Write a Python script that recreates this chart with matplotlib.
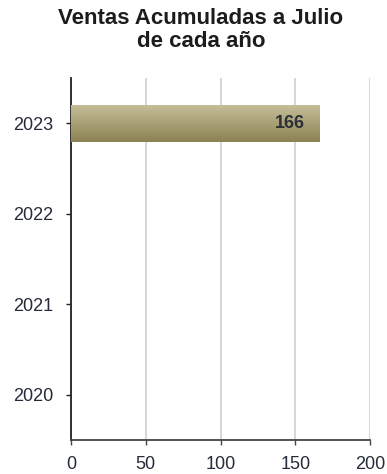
import numpy as np
import matplotlib
matplotlib.use("Agg")
import matplotlib.pyplot as plt
from matplotlib.colors import LinearSegmentedColormap

plt.rcParams['font.family'] = ['Liberation Sans', 'DejaVu Sans']

years = ["2020", "2021", "2022", "2023"]
sales = [0, 0, 0, 166]
title = "Ventas Acumuladas a Julio\nde cada año"

fig = plt.figure(figsize=(3.87, 4.74), dpi=100)
ax = fig.add_axes([71/387, 1 - 440/474, (370 - 71)/387, (440 - 78)/474])

ypos = np.arange(len(years))
bars = ax.barh(ypos, sales, height=0.41, color='none', edgecolor='none', zorder=3)

# vertical gold gradient inside each bar
cmap = LinearSegmentedColormap.from_list("gold", ["#8c8253", "#c6bf98"])
grad = np.linspace(0, 1, 256).reshape(-1, 1)
for bar, val in zip(bars, sales):
    if val <= 0:
        continue
    x0, y0 = bar.get_x(), bar.get_y()
    w, h = bar.get_width(), bar.get_height()
    im = ax.imshow(grad, cmap=cmap, aspect='auto', origin='lower',
                   extent=[x0, x0 + w, y0, y0 + h], zorder=3, interpolation='bilinear')
    im.set_clip_path(bar)
    ax.annotate(f"{val}", xy=(x0 + w, y0 + h / 2), xytext=(-10, 0),
                textcoords='offset points', ha='right', va='center',
                fontsize=13, fontweight='bold', color='#2b3038', zorder=4)

ax.set_xlim(0, 200)
ax.set_ylim(-0.5, 3.5)
ax.set_xticks([0, 50, 100, 150, 200])
ax.set_yticks(ypos)
ax.set_yticklabels(years)
ax.xaxis.grid(True, color='#d0d0d0', linewidth=1.2, zorder=0)
ax.set_axisbelow(True)

for side in ['top', 'right']:
    ax.spines[side].set_visible(False)
ax.spines['left'].set_color('#222222')
ax.spines['bottom'].set_color('#444444')
ax.spines['left'].set_linewidth(1.3)
ax.spines['bottom'].set_linewidth(1.3)

ax.tick_params(axis='y', length=3.6, width=1, colors='#222222', labelsize=13,
               labelcolor='#262b38', pad=9)
ax.tick_params(axis='x', direction='out', length=3.6, width=1, colors='#444444',
               labelsize=13, labelcolor='#262b38', pad=8)

fig.text(201/387, 1 - 30/474, title, ha='center', va='center', fontsize=16,
         fontweight='bold', color='#1c1c1c', linespacing=1.12)

fig.savefig("out.png", dpi=100)
